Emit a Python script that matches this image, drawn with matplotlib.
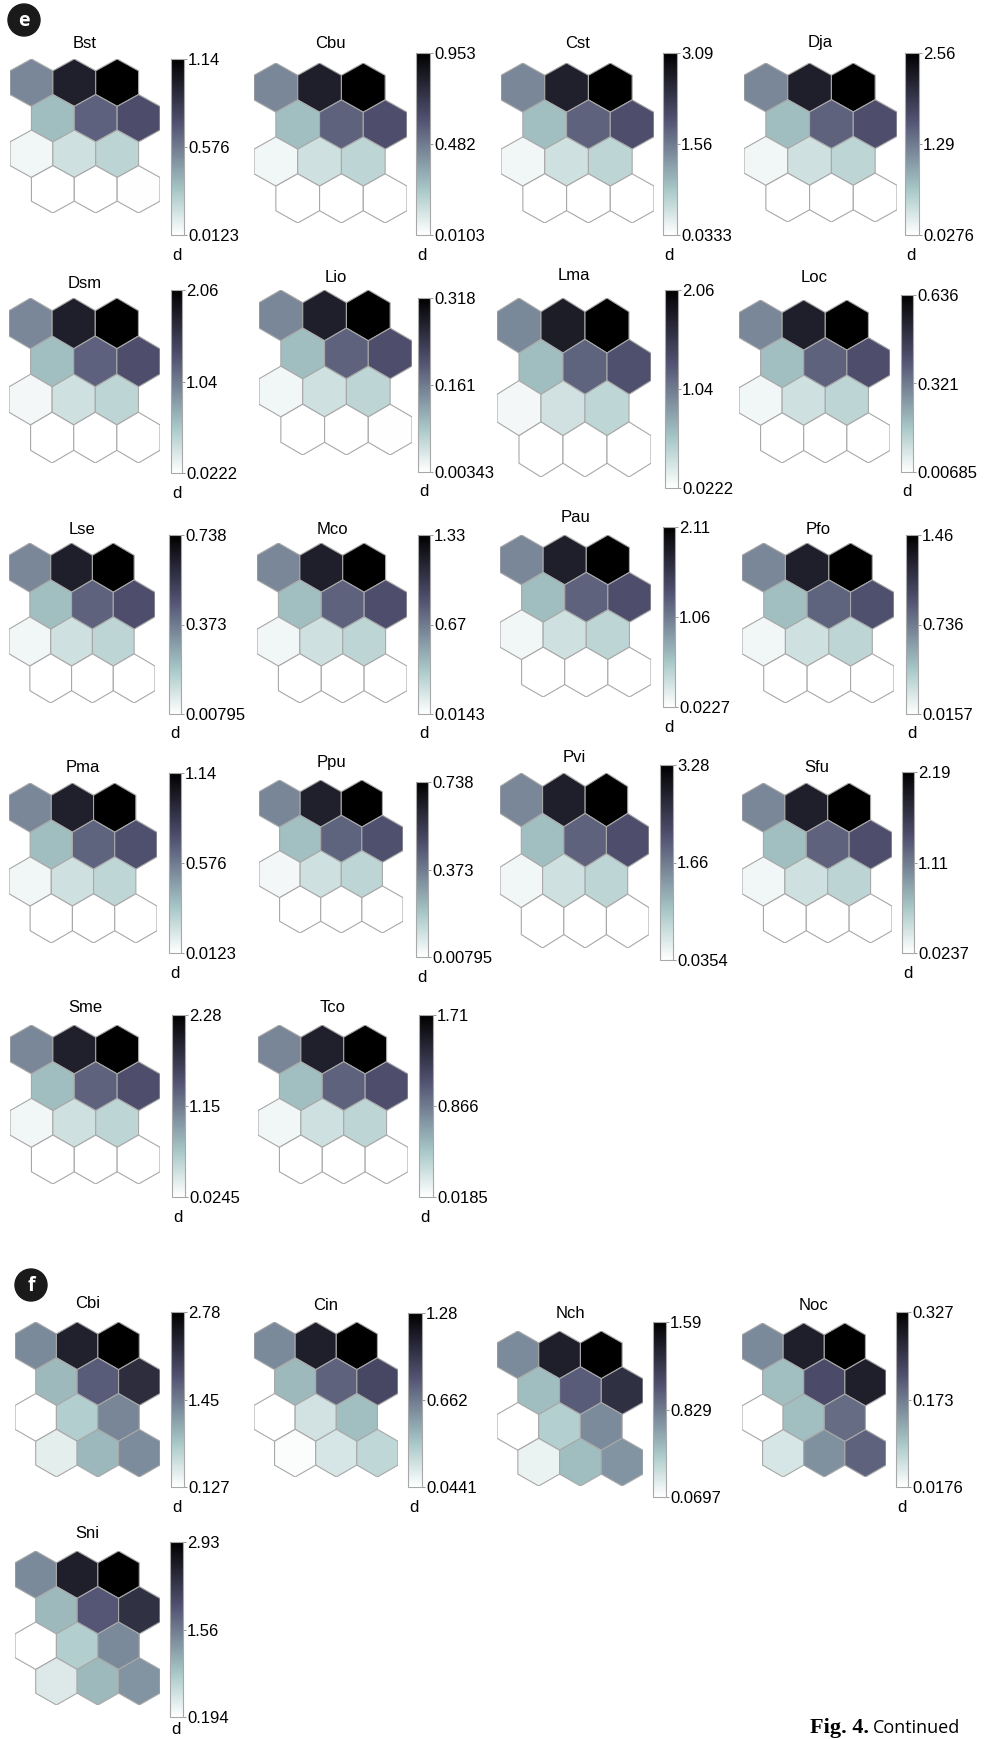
import numpy as np
import matplotlib
matplotlib.use("Agg")
import matplotlib.pyplot as plt
from matplotlib.collections import PolyCollection
from matplotlib.colors import Normalize
from matplotlib.patches import Circle

plt.rcParams['font.family'] = ['Liberation Sans', 'DejaVu Sans']

# panel names (hex map of distance d, 4 rows x 3 cols, row by row from top)
names_e = ["Bst", "Cbu", "Cst", "Dja", "Dsm", "Lio", "Lma", "Loc", "Lse", "Mco",
           "Pau", "Pfo", "Pma", "Ppu", "Pvi", "Sfu", "Sme", "Tco"]
names_f = ["Cbi", "Cin", "Nch", "Noc", "Sni"]

# colorbar tick labels (min, mid, max)
cb_ticks = {
    "Bst": ("0.0123", "0.576", "1.14"),
    "Cbu": ("0.0103", "0.482", "0.953"),
    "Cst": ("0.0333", "1.56", "3.09"),
    "Dja": ("0.0276", "1.29", "2.56"),
    "Dsm": ("0.0222", "1.04", "2.06"),
    "Lio": ("0.00343", "0.161", "0.318"),
    "Lma": ("0.0222", "1.04", "2.06"),
    "Loc": ("0.00685", "0.321", "0.636"),
    "Lse": ("0.00795", "0.373", "0.738"),
    "Mco": ("0.0143", "0.67", "1.33"),
    "Pau": ("0.0227", "1.06", "2.11"),
    "Pfo": ("0.0157", "0.736", "1.46"),
    "Pma": ("0.0123", "0.576", "1.14"),
    "Ppu": ("0.00795", "0.373", "0.738"),
    "Pvi": ("0.0354", "1.66", "3.28"),
    "Sfu": ("0.0237", "1.11", "2.19"),
    "Sme": ("0.0245", "1.15", "2.28"),
    "Tco": ("0.0185", "0.866", "1.71"),
    "Cbi": ("0.127", "1.45", "2.78"),
    "Cin": ("0.0441", "0.662", "1.28"),
    "Nch": ("0.0697", "0.829", "1.59"),
    "Noc": ("0.0176", "0.173", "0.327"),
    "Sni": ("0.194", "1.56", "2.93"),
}

# hex values, row by row
Bst = [0.53, 0.98, 1.14, 0.33, 0.67, 0.75, 0.06, 0.17, 0.23, 0.0123, 0.015, 0.02]
Cbu = [0.444, 0.821, 0.953, 0.274, 0.557, 0.623, 0.048, 0.142, 0.189, 0.0103, 0.012, 0.011]
Cst = [1.44, 2.66, 3.09, 0.89, 1.81, 2.02, 0.16, 0.46, 0.61, 0.0333, 0.04, 0.045]
Dja = [1.19, 2.21, 2.56, 0.74, 1.50, 1.67, 0.13, 0.38, 0.51, 0.0276, 0.03, 0.035]
Dsm = [0.96, 1.78, 2.06, 0.59, 1.21, 1.35, 0.10, 0.31, 0.41, 0.0222, 0.025, 0.03]
Lio = [0.148, 0.274, 0.318, 0.092, 0.186, 0.208, 0.016, 0.048, 0.063, 0.00343, 0.004, 0.005]
Lma = [0.95, 1.79, 2.06, 0.60, 1.20, 1.34, 0.10, 0.30, 0.40, 0.0222, 0.026, 0.03]
Loc = [0.296, 0.548, 0.636, 0.183, 0.372, 0.416, 0.032, 0.095, 0.126, 0.00685, 0.008, 0.009]
Lse = [0.344, 0.636, 0.738, 0.212, 0.431, 0.482, 0.037, 0.110, 0.147, 0.00795, 0.009, 0.01]
Mco = [0.62, 1.15, 1.33, 0.38, 0.78, 0.87, 0.067, 0.198, 0.264, 0.0143, 0.016, 0.018]
Pau = [0.98, 1.82, 2.11, 0.61, 1.23, 1.38, 0.106, 0.315, 0.42, 0.0227, 0.025, 0.03]
Pfo = [0.68, 1.26, 1.46, 0.42, 0.85, 0.95, 0.074, 0.218, 0.29, 0.0157, 0.017, 0.02]
Pma = [0.53, 0.98, 1.14, 0.33, 0.66, 0.74, 0.06, 0.17, 0.22, 0.0123, 0.014, 0.016]
Ppu = [0.345, 0.635, 0.738, 0.21, 0.43, 0.48, 0.036, 0.11, 0.145, 0.00795, 0.009, 0.01]
Pvi = [1.53, 2.83, 3.28, 0.94, 1.92, 2.14, 0.165, 0.49, 0.65, 0.0354, 0.04, 0.045]
Sfu = [1.02, 1.89, 2.19, 0.63, 1.28, 1.43, 0.11, 0.33, 0.44, 0.0237, 0.027, 0.03]
Sme = [1.06, 1.96, 2.28, 0.66, 1.33, 1.49, 0.115, 0.34, 0.45, 0.0245, 0.027, 0.03]
Tco = [0.80, 1.47, 1.71, 0.49, 1.00, 1.12, 0.086, 0.255, 0.34, 0.0185, 0.02, 0.025]
Cbi = [1.32, 2.38, 2.78, 0.92, 1.72, 2.25, 0.127, 0.71, 1.36, 0.34, 0.93, 1.30]
Cin = [0.60, 1.11, 1.28, 0.415, 0.76, 0.885, 0.0441, 0.205, 0.39, 0.06, 0.19, 0.27]
Nch = [0.75, 1.38, 1.59, 0.50, 0.98, 1.26, 0.0697, 0.40, 0.75, 0.16, 0.50, 0.71]
Noc = [0.157, 0.284, 0.327, 0.104, 0.222, 0.284, 0.0176, 0.104, 0.188, 0.055, 0.151, 0.197]
Sni = [1.43, 2.55, 2.93, 1.01, 1.89, 2.33, 0.194, 0.80, 1.43, 0.47, 1.01, 1.34]

values = {"Bst": Bst, "Cbu": Cbu, "Cst": Cst, "Dja": Dja, "Dsm": Dsm, "Lio": Lio,
          "Lma": Lma, "Loc": Loc, "Lse": Lse, "Mco": Mco, "Pau": Pau, "Pfo": Pfo,
          "Pma": Pma, "Ppu": Ppu, "Pvi": Pvi, "Sfu": Sfu, "Sme": Sme, "Tco": Tco,
          "Cbi": Cbi, "Cin": Cin, "Nch": Nch, "Noc": Noc, "Sni": Sni}

no_d_label = ["Lma", "Pvi", "Nch"]

# layout in pixels: hex box (x0, x1, y0, y1), colorbar box (x0, x1, y0, y1), title y
layout = {
    "Bst": ((10, 160, 59, 213), (171, 184, 59, 235), 43),
    "Cbu": ((254, 407, 63, 223), (416, 430, 53, 235), 43),
    "Cst": ((501, 654, 63, 223), (663, 677, 53, 235), 43),
    "Dja": ((744, 897, 63, 222), (905, 919, 53, 235), 43),
    "Dsm": ((9, 160, 298, 463), (171, 182, 290, 473), 283),
    "Lio": ((259, 412, 290, 455), (418, 430, 298, 472), 277),
    "Lma": ((497, 651, 298, 477), (665, 678, 290, 488), 275),
    "Loc": ((739, 890, 300, 463), (901, 913, 295, 472), 277),
    "Lse": ((9, 155, 543, 703), (169, 181, 535, 714), 530),
    "Mco": ((257, 407, 543, 703), (418, 430, 535, 714), 530),
    "Pau": ((500, 651, 535, 697), (663, 675, 527, 707), 517),
    "Pfo": ((742, 894, 543, 703), (906, 918, 535, 714), 530),
    "Pma": ((9, 157, 783, 943), (169, 181, 773, 953), 768),
    "Ppu": ((259, 403, 780, 933), (416, 428, 782, 957), 763),
    "Pvi": ((500, 649, 773, 948), (660, 673, 765, 960), 757),
    "Sfu": ((742, 892, 783, 943), (902, 914, 772, 953), 768),
    "Sme": ((10, 160, 1025, 1184), (172, 185, 1015, 1197), 1007),
    "Tco": ((258, 408, 1025, 1184), (419, 433, 1015, 1197), 1007),
    "Cbi": ((15, 160, 1322, 1477), (171, 184, 1312, 1487), 1303),
    "Cin": ((254, 398, 1322, 1477), (408, 422, 1313, 1487), 1305),
    "Nch": ((497, 643, 1331, 1486), (653, 666, 1322, 1497), 1313),
    "Noc": ((742, 886, 1323, 1477), (896, 908, 1312, 1487), 1305),
    "Sni": ((15, 160, 1551, 1705), (170, 183, 1542, 1717), 1533),
}

W, H = 985, 1739
fig = plt.figure(figsize=(W / 100, H / 100), dpi=100)
bg = fig.add_axes([0, 0, 1, 1])
bg.set_xlim(0, W)
bg.set_ylim(H, 0)
bg.axis("off")


def px_rect(x0, x1, y0, y1):
    return [x0 / W, 1 - y1 / H, (x1 - x0) / W, (y1 - y0) / H]


R = 1 / np.sqrt(3)
ang = np.deg2rad(90 + 60 * np.arange(6))
hex_shape = np.column_stack([R * np.cos(ang), R * np.sin(ang)])

cmap = plt.get_cmap("bone_r")

for name in names_e + names_f:
    hbox, cbox, ty = layout[name]
    vals = values[name]
    lo, mid, hi = cb_ticks[name]
    vmin, vmax = float(lo), float(hi)

    ax = fig.add_axes(px_rect(*hbox))
    verts = []
    for i in range(len(vals)):
        r, c = divmod(i, 3)
        cx = c + 0.5 * (r % 2)
        cy = -r * 1.5 * R
        verts.append(hex_shape + [cx, cy])
    pc = PolyCollection(verts, array=np.array(vals), cmap=cmap,
                        norm=Normalize(vmin, vmax), edgecolors="#a8a8a8",
                        linewidths=0.8)
    ax.add_collection(pc)
    ax.set_xlim(-0.5, 3.0)
    ax.set_ylim(-3 * 1.5 * R - R, R)
    ax.axis("off")

    bg.text((hbox[0] + hbox[1]) / 2, ty, name, ha="center", va="center",
            fontsize=12)

    cax = fig.add_axes(px_rect(*cbox))
    cb = fig.colorbar(pc, cax=cax, ticks=[vmin, (vmin + vmax) / 2, vmax])
    cb.ax.set_yticklabels([lo, mid, hi])
    cb.ax.tick_params(length=2, width=0.6, color="#888888", labelsize=12, pad=1)
    cb.outline.set_edgecolor("#a8a8a8")
    cb.outline.set_linewidth(0.8)

    if name not in no_d_label:
        dy = min(cbox[3] + 20, H - 9)
        bg.text(cbox[0] + 1, dy, "d", ha="left", va="center", fontsize=12)

# panel letters
for letter, (x, y) in [("e", (24, 20)), ("f", (31, 1285))]:
    bg.add_patch(Circle((x, y), 16, color="#1a1a1a", zorder=5))
    bg.text(x, y + 1, letter, color="white", ha="center", va="center",
            fontsize=14, fontweight="bold", zorder=6,
            family=["Open Sans", "DejaVu Sans"])

bg.text(869, 1733, "Fig. 4.", ha="right", va="baseline", fontsize=16,
        fontweight="bold", family=["Liberation Serif", "DejaVu Serif"])
bg.text(873, 1733, "Continued", ha="left", va="baseline", fontsize=13,
        family=["Open Sans", "DejaVu Sans"])

fig.savefig("out.png", dpi=100)
